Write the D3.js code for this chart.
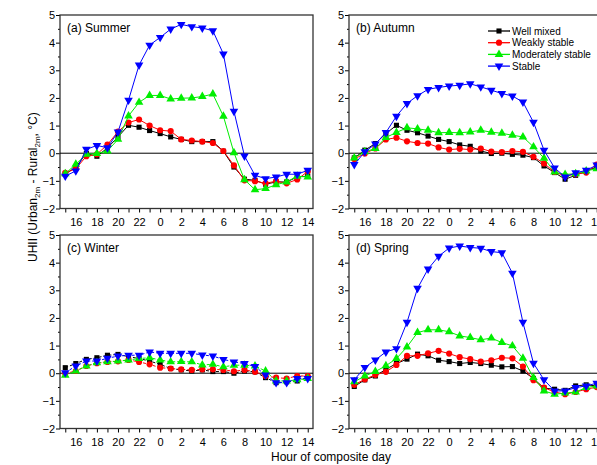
<!DOCTYPE html>
<html>
<head>
<meta charset="utf-8">
<script src="https://cdn.jsdelivr.net/npm/d3@7"></script>
<style>
  body { margin: 0; background: #fff; }
  svg { display: block; font-family: "Liberation Sans", Arial, sans-serif; }
</style>
</head>
<body>
<svg id="chart"></svg>
<script>
// hours 15 .. 14 next day (stored as 15..38)
const hours = d3.range(15, 39);
const seriesNames = ['Well mixed', 'Weakly stable', 'Moderately stable', 'Stable'];

const summerWell = [-0.76, -0.5, -0.01, -0.11, 0.19, 0.59, 1.01, 0.94, 0.82, 0.71, 0.59, 0.5, 0.42, 0.42, 0.42, 0.07, -0.5, -0.94, -0.98, -1.12, -1.04, -1.04, -0.86, -0.83];
const summerWeak = [-0.71, -0.56, -0.11, -0.04, 0.31, 0.78, 1.11, 1.22, 1.0, 0.83, 0.8, 0.5, 0.46, 0.42, 0.37, 0.08, -0.44, -0.98, -1.01, -1.09, -1.01, -1.09, -0.95, -0.66];
const summerMod = [-0.74, -0.4, -0.04, -0.01, 0.08, 0.5, 1.35, 1.84, 2.09, 2.09, 1.96, 1.99, 2.0, 2.05, 2.14, 1.34, 0.02, -0.96, -1.32, -1.28, -1.14, -1.04, -0.83, -0.86];
const summerStable = [-0.83, -0.64, 0.14, 0.28, 0.2, 0.77, 1.92, 3.19, 3.91, 4.19, 4.49, 4.66, 4.58, 4.53, 4.43, 3.59, 1.52, -0.1, -0.8, -0.92, -0.86, -0.76, -0.76, -0.62];

const autumnWell = [-0.17, 0.11, 0.35, 0.71, 1.01, 0.83, 0.74, 0.62, 0.5, 0.42, 0.3, 0.25, 0.08, -0.01, 0.0, -0.04, -0.07, -0.16, -0.46, -0.7, -0.94, -0.8, -0.65, -0.5];
const autumnWeak = [-0.21, -0.01, 0.17, 0.5, 0.56, 0.43, 0.37, 0.35, 0.21, 0.13, 0.16, 0.13, 0.17, 0.06, 0.04, 0.08, 0.05, -0.13, -0.37, -0.68, -0.82, -0.76, -0.7, -0.41];
const autumnMod = [-0.17, 0.05, 0.17, 0.57, 0.75, 0.92, 0.88, 0.83, 0.74, 0.75, 0.74, 0.77, 0.83, 0.76, 0.72, 0.65, 0.59, 0.23, -0.18, -0.68, -0.77, -0.74, -0.64, -0.56];
const autumnStable = [-0.41, 0.05, 0.33, 0.75, 1.34, 1.8, 2.08, 2.31, 2.38, 2.43, 2.46, 2.51, 2.4, 2.28, 2.16, 2.07, 1.85, 1.12, 0.11, -0.53, -0.86, -0.71, -0.62, -0.43];

const winterWell = [0.2, 0.35, 0.5, 0.56, 0.65, 0.68, 0.6, 0.53, 0.44, 0.32, 0.17, 0.12, 0.08, 0.12, 0.06, 0.06, 0.0, 0.08, 0.05, -0.16, -0.34, -0.31, -0.28, -0.16];
const winterWeak = [-0.01, 0.08, 0.26, 0.36, 0.41, 0.43, 0.48, 0.41, 0.32, 0.2, 0.17, 0.14, 0.12, 0.14, 0.14, 0.12, 0.07, 0.12, 0.05, -0.1, -0.16, -0.19, -0.1, -0.1];
const winterMod = [-0.07, 0.08, 0.26, 0.38, 0.41, 0.44, 0.48, 0.53, 0.56, 0.48, 0.41, 0.42, 0.41, 0.3, 0.32, 0.23, 0.29, 0.29, 0.26, 0.08, -0.28, -0.28, -0.24, -0.19];
const winterStable = [0.02, 0.26, 0.44, 0.44, 0.54, 0.62, 0.65, 0.65, 0.77, 0.72, 0.72, 0.72, 0.72, 0.66, 0.62, 0.5, 0.41, 0.35, 0.24, -0.06, -0.34, -0.34, -0.19, -0.19];

const springWell = [-0.48, -0.24, -0.1, 0.14, 0.35, 0.51, 0.69, 0.63, 0.47, 0.42, 0.35, 0.39, 0.35, 0.29, 0.23, 0.24, 0.08, -0.19, -0.54, -0.58, -0.62, -0.46, -0.42, -0.46];
const springWeak = [-0.42, -0.22, -0.06, 0.05, 0.3, 0.63, 0.63, 0.72, 0.81, 0.71, 0.58, 0.51, 0.42, 0.47, 0.56, 0.54, 0.24, -0.25, -0.52, -0.68, -0.76, -0.68, -0.58, -0.5];
const springMod = [-0.31, -0.1, 0.06, 0.27, 0.53, 0.95, 1.47, 1.57, 1.57, 1.5, 1.35, 1.29, 1.21, 1.27, 1.11, 0.99, 0.54, -0.16, -0.64, -0.76, -0.72, -0.68, -0.52, -0.46];
const springStable = [-0.24, 0.21, 0.48, 0.77, 0.89, 1.84, 3.07, 3.77, 4.23, 4.53, 4.6, 4.55, 4.52, 4.4, 4.36, 3.62, 1.84, 0.36, -0.24, -0.64, -0.64, -0.52, -0.46, -0.36];

const yTicks = [-2, -1, 0, 1, 2, 3, 4, 5];

const colors = ['#000000', '#ff0000', '#00ee00', '#0000ff'];
const symbols = [d3.symbolSquare, d3.symbolCircle, d3.symbolTriangle, d3.symbolTriangle];
const symSizes = [26, 30, 32, 32];
const symRotate = [0, 0, 0, 180];

const panels = [
  { title: '(a) Summer', data: [summerWell, summerWeak, summerMod, summerStable], col: 0, row: 0, dash: null, legend: false },
  { title: '(b) Autumn', data: [autumnWell, autumnWeak, autumnMod, autumnStable], col: 1, row: 0, dash: null, legend: true },
  { title: '(c) Winter', data: [winterWell, winterWeak, winterMod, winterStable], col: 0, row: 1, dash: '3,2', legend: false },
  { title: '(d) Spring', data: [springWell, springWeak, springMod, springStable], col: 1, row: 1, dash: null, legend: false }
];

const width = 597, height = 465;
const svg = d3.select('#chart').attr('width', width).attr('height', height);

const panelW = 253, panelH = 193.5;
const lefts = [60, 349], tops = [15, 235];

panels.forEach(p => {
  const x0 = lefts[p.col], y0 = tops[p.row];
  const g = svg.append('g').attr('transform', `translate(${x0},${y0})`);

  const xScale = d3.scaleLinear().domain([14.5, 38.5]).range([0, panelW]);
  const yScale = d3.scaleLinear().domain([-2, 5]).range([panelH, 0]);

  // x axis: tick every hour, label even hours
  const xAxis = d3.axisBottom(xScale)
    .tickValues(hours)
    .tickSizeInner(4).tickSizeOuter(0)
    .tickFormat(d => d % 2 === 0 ? String(d % 24) : '');
  const gx = g.append('g').attr('transform', `translate(0,${panelH})`).call(xAxis);
  gx.select('.domain').remove();
  gx.selectAll('line').attr('stroke', '#000').attr('stroke-width', 1);
  gx.selectAll('text').attr('font-size', 11).attr('fill', '#000').attr('dy', '0.95em');

  // y axis major + minor
  const yAxis = d3.axisLeft(yScale).tickValues(yTicks).tickSizeInner(4).tickSizeOuter(0).tickFormat(d3.format('d'));
  const gy = g.append('g').call(yAxis);
  gy.select('.domain').remove();
  gy.selectAll('line').attr('stroke', '#000');
  gy.selectAll('text').attr('font-size', 11).attr('fill', '#000').attr('x', -5);
  const gyMinor = g.append('g').call(d3.axisLeft(yScale).tickValues(d3.range(-1.5, 5, 1)).tickSize(2).tickFormat(''));
  gyMinor.select('.domain').remove();
  gyMinor.selectAll('line').attr('stroke', '#000');

  // frame
  g.append('rect').attr('x', 0).attr('y', 0).attr('width', panelW).attr('height', panelH)
    .attr('fill', 'none').attr('stroke', '#333').attr('stroke-width', 1.3);

  // zero line
  g.append('line').attr('x1', 0).attr('x2', panelW)
    .attr('y1', yScale(0)).attr('y2', yScale(0))
    .attr('stroke', '#000').attr('stroke-width', 1);

  const line = d3.line().x((d, i) => xScale(hours[i])).y(d => yScale(d));

  p.data.forEach((vals, k) => {
    g.append('path').attr('d', line(vals))
      .attr('fill', 'none').attr('stroke', colors[k]).attr('stroke-width', 1)
      .attr('stroke-dasharray', p.dash);
    const sym = d3.symbol().type(symbols[k]).size(symSizes[k]);
    g.append('g').selectAll('path').data(vals).join('path')
      .attr('d', sym)
      .attr('transform', (d, i) => `translate(${xScale(hours[i])},${yScale(d)}) rotate(${symRotate[k]})`)
      .attr('fill', colors[k]);
  });

  g.append('text').attr('x', 7).attr('y', 17).attr('font-size', 12).attr('fill', '#000').text(p.title);

  if (p.legend) {
    const lg = g.append('g').attr('transform', 'translate(139,16)');
    seriesNames.forEach((name, k) => {
      const ly = k * 11.7;
      lg.append('line').attr('x1', 0).attr('x2', 22).attr('y1', ly).attr('y2', ly)
        .attr('stroke', colors[k]).attr('stroke-width', 1.3);
      lg.append('path').attr('d', d3.symbol().type(symbols[k]).size(symSizes[k]))
        .attr('transform', `translate(11,${ly}) rotate(${symRotate[k]})`)
        .attr('fill', colors[k]);
      lg.append('text').attr('x', 24).attr('y', ly).attr('dy', '0.35em')
        .attr('font-size', 10).attr('fill', '#000').text(name);
    });
  }
});

// axis titles
svg.append('text').attr('x', 331).attr('y', 461).attr('text-anchor', 'middle')
  .attr('font-size', 12).attr('fill', '#000').text('Hour of composite day');

const yl = svg.append('text').attr('transform', 'translate(37,262) rotate(-90)')
  .attr('text-anchor', 'start').attr('font-size', 12).attr('fill', '#000');
yl.append('tspan').text('UHII (Urban');
yl.append('tspan').attr('font-size', 8).attr('dy', 3).text('2m');
yl.append('tspan').attr('dy', -3).text(' - Rural');
yl.append('tspan').attr('font-size', 8).attr('dy', 3).text('2m');
yl.append('tspan').attr('dy', -3).text(', \u00B0C)');
</script>
</body>
</html>
